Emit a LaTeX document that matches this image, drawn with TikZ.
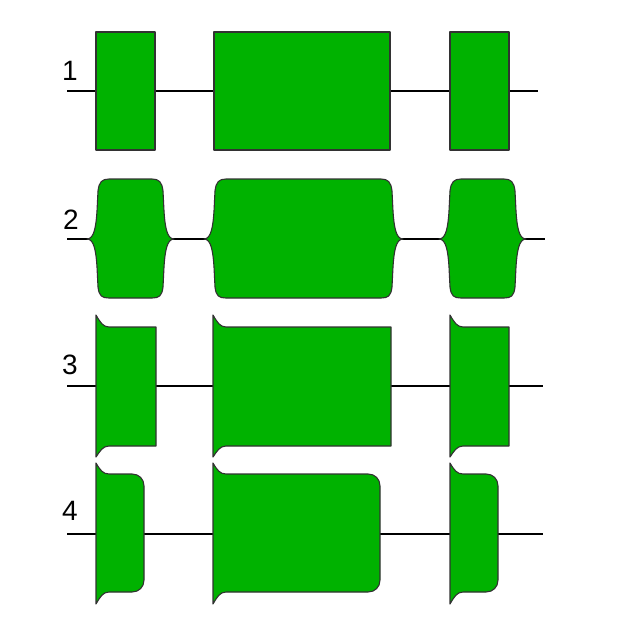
\documentclass[tikz,border=0pt]{standalone}
\usepackage{fontspec}
\setmainfont{Liberation Sans}
\definecolor{exon}{RGB}{0,178,0}
\definecolor{edge}{RGB}{50,50,50}
\tikzset{
  exonshape/.style={fill=exon, draw=edge, line width=1.1pt, line join=round},
  intron/.style={draw=black, line width=1.6pt},
  rowlabel/.style={font=\fontsize{28}{30}\selectfont, inner sep=0pt}
}
% row 1: plain box
\newcommand{\boxone}[4]{% L R T B
  \path[exonshape] (#1,#3) rectangle (#2,#4);
}
% row 2: pinched, rounded shape
\newcommand{\bulgetwo}[2]{% L R (pinch points)
  \path[exonshape] (#1,239)
    .. controls ({#1+7},239) and ({#1+9},227) .. ({#1+10},211)
    -- ({#1+11},191)
    .. controls ({#1+12},182) and ({#1+15},179) .. ({#1+22},179)
    -- ({#2-22},179)
    .. controls ({#2-15},179) and ({#2-12},182) .. ({#2-11},191)
    -- ({#2-10},211)
    .. controls ({#2-9},227) and ({#2-7},239) .. (#2,239)
    .. controls ({#2-7},239) and ({#2-9},251) .. ({#2-10},267)
    -- ({#2-11},287)
    .. controls ({#2-12},296) and ({#2-15},298) .. ({#2-22},298)
    -- ({#1+22},298)
    .. controls ({#1+15},298) and ({#1+12},296) .. ({#1+11},287)
    -- ({#1+10},267)
    .. controls ({#1+9},251) and ({#1+7},239) .. (#1,239)
    -- cycle;
}
% row 3: left flare, square right
\newcommand{\flarethree}[2]{% L R
  \path[exonshape] (#1,315)
    .. controls ({#1+4},322) and ({#1+7},327) .. ({#1+13},327)
    -- (#2,327) -- (#2,446) -- ({#1+13},446)
    .. controls ({#1+7},446) and ({#1+4},451) .. (#1,457)
    -- cycle;
}
% row 4: left flare, rounded right
\newcommand{\flarefour}[2]{% L R
  \path[exonshape] (#1,463)
    .. controls ({#1+4},470) and ({#1+7},474) .. ({#1+13},474)
    -- ({#2-12},474)
    .. controls ({#2-5},474) and (#2,479) .. (#2,486)
    -- (#2,580)
    .. controls (#2,587) and ({#2-5},592) .. ({#2-12},592)
    -- ({#1+13},592)
    .. controls ({#1+7},592) and ({#1+4},597) .. (#1,604)
    -- cycle;
}
\begin{document}
\begin{tikzpicture}[x=1pt,y=-1pt]
\useasboundingbox (0,0) rectangle (618,637);
% labels
\node[rowlabel] (l1) at (70,71) {1};
\node[rowlabel] (l2) at (71,220) {2};
\node[rowlabel] (l3) at (70,365) {3};
\node[rowlabel] (l4) at (70,511) {4};
% row 1
\coordinate (r1s) at (67,91); \coordinate (r1e) at (538,91);
\draw[intron] (r1s) -- (r1e);
\boxone{96}{155}{32}{150}
\boxone{214}{390}{32}{150}
\boxone{450}{509}{32}{150}
% row 2
\coordinate (r2s) at (67,239); \coordinate (r2e) at (545,239);
\draw[intron] (r2s) -- (r2e);
\bulgetwo{87}{174}
\bulgetwo{204}{403}
\bulgetwo{439}{526}
% row 3
\coordinate (r3s) at (67,386); \coordinate (r3e) at (543,386);
\draw[intron] (r3s) -- (r3e);
\flarethree{96}{156}
\flarethree{213}{391}
\flarethree{450}{509}
% row 4
\coordinate (r4s) at (67,534); \coordinate (r4e) at (543,534);
\draw[intron] (r4s) -- (r4e);
\flarefour{96}{144}
\flarefour{213}{380}
\flarefour{450}{498}
\end{tikzpicture}
\end{document}
